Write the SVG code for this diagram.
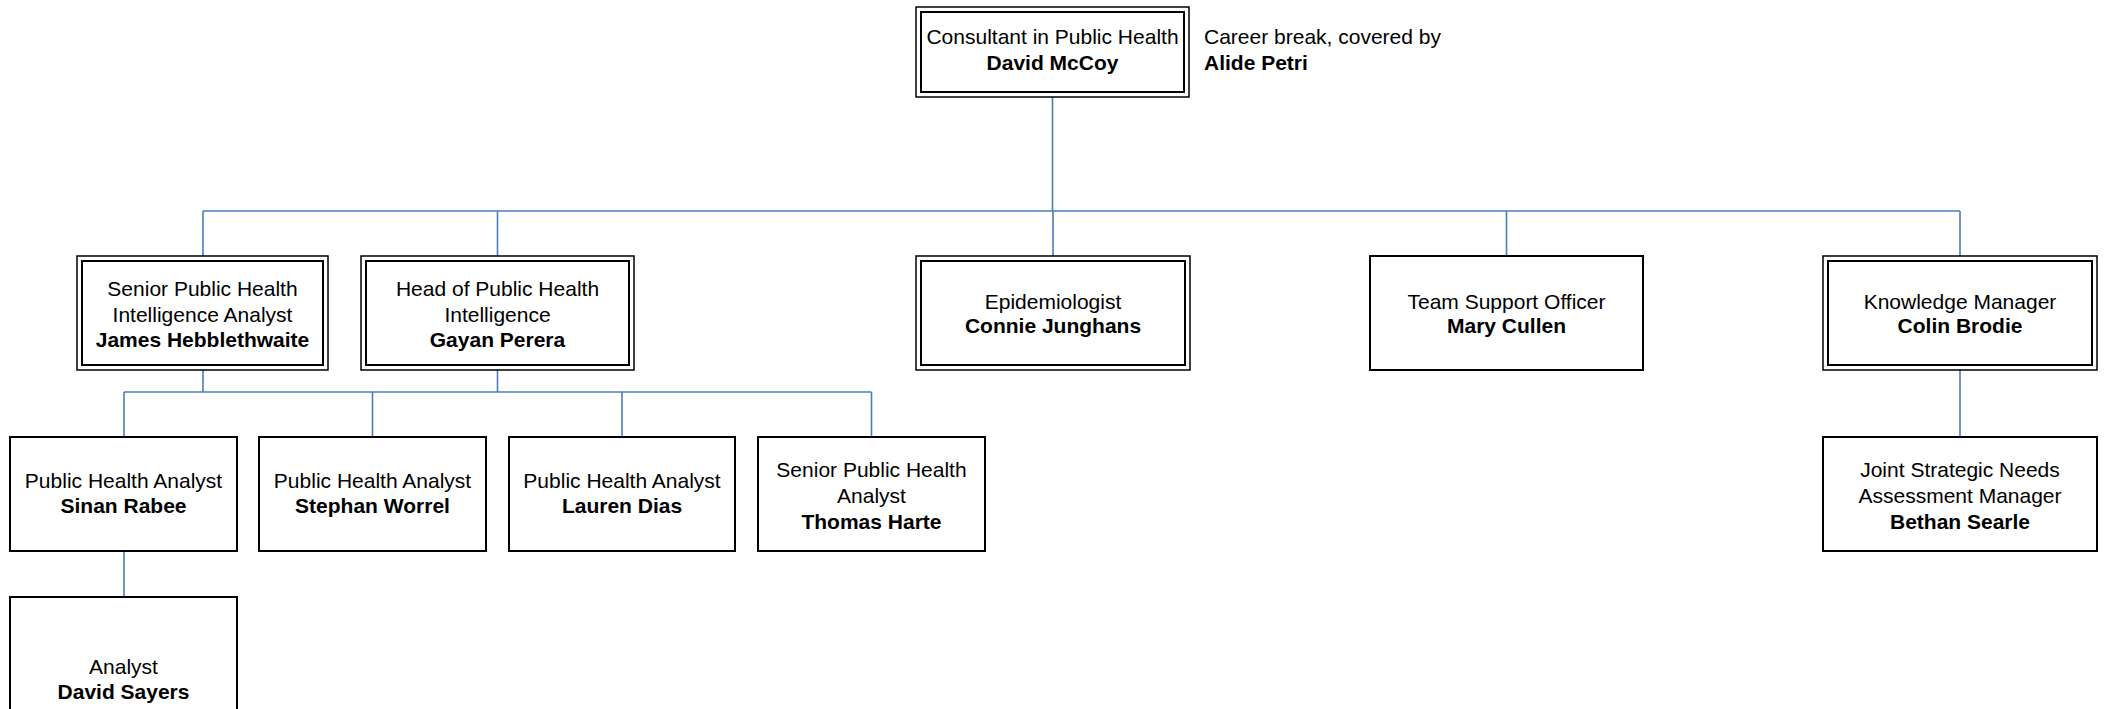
<svg xmlns="http://www.w3.org/2000/svg" width="2107" height="709" viewBox="0 0 2107 709">
<style>
.o{fill:#fff;stroke:#000;stroke-width:1.5}
.i{fill:none;stroke:#000;stroke-width:2}
.s{fill:#fff;stroke:#000;stroke-width:2}
text{font-family:"Liberation Sans",Arial,sans-serif;font-size:21px;fill:#000;text-anchor:middle}
.b{font-weight:bold}
.l{text-anchor:start}
.c{fill:none;stroke:#4a7ebb;stroke-width:1.6}
</style>
<rect width="2107" height="709" fill="#fff"/>
<g id="connectors">
<path class="c" d="M1052.5 97V211M203 211H1960M203 211V256M497.5 211V256M1053 211V256M1506.5 211V256M1960 211V256"/>
<path class="c" d="M203 370V392M497.5 370V392M124 392H871.5M124 392V437M372.5 392V437M622 392V437M871.5 392V437"/>
<path class="c" d="M124 551V597M1960 370V437"/>
</g>
<g id="consultant">
<rect class="o" x="916" y="7" width="273" height="90"/>
<rect class="i" x="921" y="12" width="263" height="80"/>
<text x="1052.5" y="44">Consultant in Public Health</text>
<text class="b" x="1052.5" y="69.5">David McCoy</text>
</g>
<g id="note">
<text class="l" x="1204" y="44">Career break, covered by</text>
<text class="l b" x="1204" y="69.5">Alide Petri</text>
</g>
<g id="james">
<rect class="o" x="77" y="256" width="251" height="114"/>
<rect class="i" x="82" y="261" width="241" height="104"/>
<text x="202.5" y="295.5">Senior Public Health</text>
<text x="202.5" y="321.5">Intelligence Analyst</text>
<text class="b" x="202.5" y="347">James Hebblethwaite</text>
</g>
<g id="gayan">
<rect class="o" x="361" y="256" width="273" height="114"/>
<rect class="i" x="366" y="261" width="263" height="104"/>
<text x="497.5" y="295.5">Head of Public Health</text>
<text x="497.5" y="321.5">Intelligence</text>
<text class="b" x="497.5" y="347">Gayan Perera</text>
</g>
<g id="connie">
<rect class="o" x="916" y="256" width="274" height="114"/>
<rect class="i" x="921" y="261" width="264" height="104"/>
<text x="1053" y="308.5">Epidemiologist</text>
<text class="b" x="1053" y="333">Connie Junghans</text>
</g>
<g id="mary">
<rect class="s" x="1370" y="256" width="273" height="114"/>
<text x="1506.5" y="308.5">Team Support Officer</text>
<text class="b" x="1506.5" y="333">Mary Cullen</text>
</g>
<g id="colin">
<rect class="o" x="1823" y="256" width="274" height="114"/>
<rect class="i" x="1828" y="261" width="264" height="104"/>
<text x="1960" y="308.5">Knowledge Manager</text>
<text class="b" x="1960" y="333">Colin Brodie</text>
</g>
<g id="sinan">
<rect class="s" x="10" y="437" width="227" height="114"/>
<text x="123.5" y="488">Public Health Analyst</text>
<text class="b" x="123.5" y="512.5">Sinan Rabee</text>
</g>
<g id="stephan">
<rect class="s" x="259" y="437" width="227" height="114"/>
<text x="372.5" y="488">Public Health Analyst</text>
<text class="b" x="372.5" y="512.5">Stephan Worrel</text>
</g>
<g id="lauren">
<rect class="s" x="509" y="437" width="226" height="114"/>
<text x="622" y="488">Public Health Analyst</text>
<text class="b" x="622" y="512.5">Lauren Dias</text>
</g>
<g id="thomas">
<rect class="s" x="758" y="437" width="227" height="114"/>
<text x="871.5" y="477">Senior Public Health</text>
<text x="871.5" y="503">Analyst</text>
<text class="b" x="871.5" y="528.5">Thomas Harte</text>
</g>
<g id="bethan">
<rect class="s" x="1823" y="437" width="274" height="114"/>
<text x="1960" y="477">Joint Strategic Needs</text>
<text x="1960" y="503">Assessment Manager</text>
<text class="b" x="1960" y="528.5">Bethan Searle</text>
</g>
<g id="david">
<rect class="s" x="10" y="597" width="227" height="160"/>
<text x="123.5" y="674">Analyst</text>
<text class="b" x="123.5" y="699">David Sayers</text>
</g>
</svg>
